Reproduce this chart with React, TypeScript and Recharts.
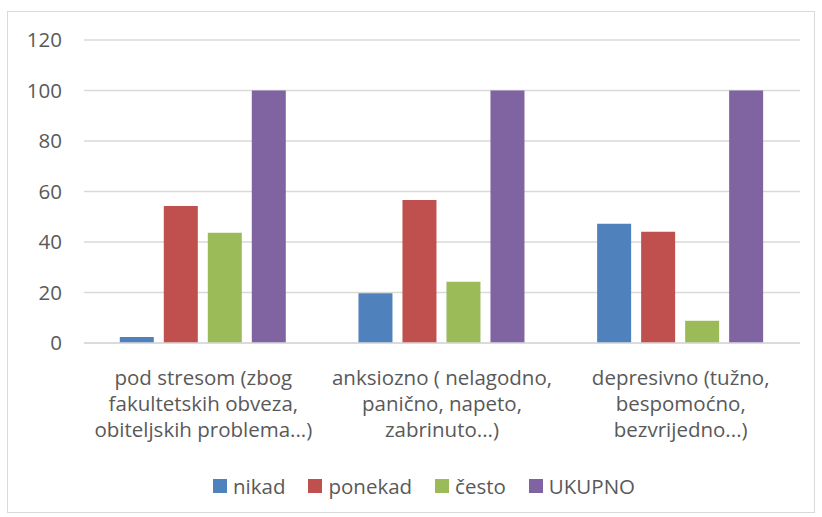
import React from "react";
import { Bar, BarChart, CartesianGrid, Legend, XAxis, YAxis } from "recharts";

// categories (full label text) and how each label wraps under the axis
const categories = [
  "pod stresom (zbog fakultetskih obveza, obiteljskih problema...)",
  "anksiozno ( nelagodno, panično, napeto, zabrinuto...)",
  "depresivno (tužno, bespomoćno, bezvrijedno...)",
];
const categoryLines = [
  ["pod stresom (zbog", "fakultetskih obveza,", "obiteljskih problema...)"],
  ["anksiozno ( nelagodno,", "panično, napeto,", "zabrinuto...)"],
  ["depresivno (tužno,", "bespomoćno,", "bezvrijedno...)"],
];

const nikad = [2.4, 19.7, 47.2];
const ponekad = [54.3, 56.6, 44.1];
const cesto = [43.7, 24.3, 8.8];
const ukupno = [100, 100, 100];

const yTicks = [0, 20, 40, 60, 80, 100, 120];

const series = [
  { key: "nikad", color: "#4f81bd" },
  { key: "ponekad", color: "#c0504d" },
  { key: "često", color: "#9bbb59" },
  { key: "UKUPNO", color: "#8064a2" },
];

const data = categories.map((name, i) => ({
  name,
  nikad: nikad[i],
  ponekad: ponekad[i],
  "često": cesto[i],
  UKUPNO: ukupno[i],
}));

const FONT = "'Open Sans', 'Liberation Sans', sans-serif";
const FONT_SIZE = 20.5;
const TEXT = "#595959";

const CategoryTick = (props: any) => {
  const { x, y, index } = props;
  const lines = categoryLines[index] ?? [];
  return (
    <g transform={`translate(${x},${y})`}>
      {lines.map((line, i) => (
        <text
          key={i}
          x={0}
          y={i * 26}
          dy={34}
          textAnchor="middle"
          fill={TEXT}
          fontSize={FONT_SIZE}
          fontFamily={FONT}
        >
          {line}
        </text>
      ))}
    </g>
  );
};

const LegendContent = () => (
  <div
    style={{
      height: 44,
      display: "flex",
      justifyContent: "center",
      alignItems: "center",
      gap: 23,
      paddingLeft: 24,
      fontFamily: FONT,
      fontSize: FONT_SIZE,
      color: TEXT,
    }}
  >
    {series.map((s) => (
      <span key={s.key} style={{ display: "flex", alignItems: "center" }}>
        <span
          style={{
            width: 14,
            height: 14,
            background: s.color,
            display: "inline-block",
            marginRight: 6,
          }}
        />
        {s.key}
      </span>
    ))}
  </div>
);

export default function App() {
  return (
    <div
      style={{
        position: "absolute",
        top: 0,
        left: 0,
        width: 822,
        height: 517,
        background: "#fff",
      }}
    >
      <div
        style={{
          position: "absolute",
          left: 7,
          top: 11,
          width: 806,
          height: 500,
          border: "1px solid #d9d9d9",
        }}
      />
      <BarChart
        width={822}
        height={517}
        data={data}
        margin={{ top: 40, right: 22, bottom: 9, left: 24 }}
        barCategoryGap="15%"
        barGap={10}
      >
        <CartesianGrid vertical={false} stroke="#d9d9d9" strokeWidth={1.3} />
        <XAxis
          dataKey="name"
          tick={<CategoryTick />}
          tickLine={false}
          axisLine={{ stroke: "#d9d9d9", strokeWidth: 1.5 }}
          interval={0}
          height={121}
        />
        <YAxis
          domain={[0, 120]}
          ticks={yTicks}
          width={60}
          tickSize={0}
          tickMargin={22}
          axisLine={false}
          tickLine={false}
          tick={{ fill: TEXT, fontSize: FONT_SIZE, fontFamily: FONT }}
        />
        <Legend verticalAlign="bottom" height={44} content={<LegendContent />} />
        {series.map((s) => (
          <Bar
            key={s.key}
            dataKey={s.key}
            fill={s.color}
            isAnimationActive={false}
          />
        ))}
      </BarChart>
    </div>
  );
}
